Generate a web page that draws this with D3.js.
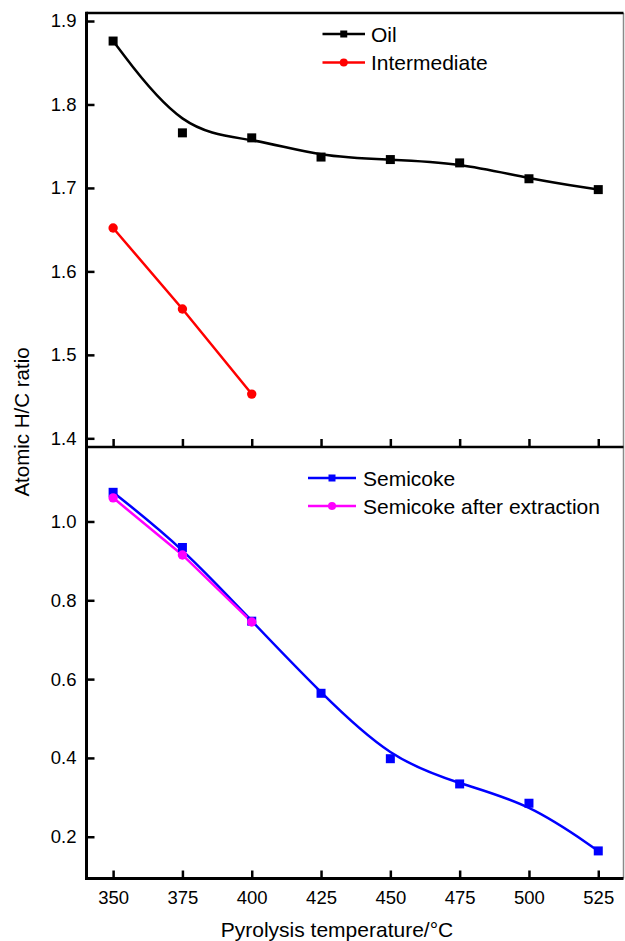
<!DOCTYPE html>
<html>
<head>
<meta charset="utf-8">
<script src="https://cdn.jsdelivr.net/npm/d3@7"></script>
<style>
  html, body { margin: 0; padding: 0; background: #fff; }
  svg { display: block; font-family: "Liberation Sans", Arial, Helvetica, sans-serif; }
</style>
</head>
<body>
<svg id="chart" width="625" height="941"></svg>
<script>
// ---------- data ----------
const temperatures = [350, 375, 400, 425, 450, 475, 500, 525];
const oilValues = [1.876, 1.766, 1.760, 1.737, 1.734, 1.730, 1.711, 1.698];
const intermediateTemps = [350, 375, 400];
const intermediateValues = [1.652, 1.555, 1.453];
const semicokeValues = [1.074, 0.934, 0.747, 0.564, 0.398, 0.334, 0.285, 0.164];
const extractionTemps = [350, 375, 400];
const extractionValues = [1.060, 0.915, 0.745];
const xTicks = [350, 375, 400, 425, 450, 475, 500, 525];
const yTopTicks = [1.4, 1.5, 1.6, 1.7, 1.8, 1.9];
const yBottomTicks = [0.2, 0.4, 0.6, 0.8, 1.0];
const topLegend = ["Oil", "Intermediate"];
const bottomLegend = ["Semicoke", "Semicoke after extraction"];

// ---------- layout ----------
const L = 86.5, R = 623.5, T = 13, MID = 447, B = 878.5;
const svg = d3.select("#chart");

const x = d3.scaleLinear().domain([340.4, 534.1]).range([L, R]);
const yTop = d3.scaleLinear().domain([1.3896, 1.9096]).range([MID, T]);
const yBot = d3.scaleLinear().domain([0.094, 1.189]).range([B, MID]);

const tickFont = "18.5px";

// Y axes
function styleAxis(g) {
  g.select(".domain").remove();
  g.selectAll(".tick line").attr("stroke", "#000").attr("stroke-width", 2.5);
  g.selectAll(".tick text").attr("fill", "#000").style("font-size", tickFont)
    .style("font-family", '"Liberation Sans", Arial, sans-serif');
}
svg.append("g").attr("transform", `translate(${L},0)`)
  .call(d3.axisLeft(yTop).tickValues(yTopTicks).tickSize(-8).tickPadding(10).tickFormat(d3.format(".1f")))
  .call(styleAxis);
svg.append("g").attr("transform", `translate(${L},0)`)
  .call(d3.axisLeft(yBot).tickValues(yBottomTicks).tickSize(-8).tickPadding(10).tickFormat(d3.format(".1f")))
  .call(styleAxis);

// X axes
svg.append("g").attr("transform", `translate(0,${B})`)
  .call(d3.axisBottom(x).tickValues(xTicks).tickSize(-8).tickPadding(12).tickFormat(d3.format("d")))
  .call(styleAxis);
svg.append("g").attr("transform", `translate(0,${MID})`)
  .call(d3.axisBottom(x).tickValues(xTicks).tickSize(-8).tickFormat(""))
  .call(styleAxis);

// frame
svg.append("line").attr("x1", R).attr("x2", R).attr("y1", T).attr("y2", B)
  .attr("stroke", "#8a8a8a").attr("stroke-width", 1.5);
svg.append("line").attr("x1", L).attr("x2", R).attr("y1", T).attr("y2", T)
  .attr("stroke", "#000").attr("stroke-width", 2.5);
svg.append("line").attr("x1", L).attr("x2", R).attr("y1", MID).attr("y2", MID)
  .attr("stroke", "#000").attr("stroke-width", 2.5);
svg.append("line").attr("x1", L).attr("x2", R).attr("y1", B).attr("y2", B)
  .attr("stroke", "#000").attr("stroke-width", 3);
svg.append("line").attr("x1", L).attr("x2", L).attr("y1", T - 1.25).attr("y2", B + 1.5)
  .attr("stroke", "#000").attr("stroke-width", 3);

// ---------- series ----------
function drawLine(xs, ys, yScale, color, curve) {
  const pts = xs.map((t, i) => [t, ys[i]]);
  svg.append("path").datum(pts)
    .attr("fill", "none").attr("stroke", color).attr("stroke-width", 2.5)
    .attr("d", d3.line().x(d => x(d[0])).y(d => yScale(d[1])).curve(curve));
}
function drawSquares(xs, ys, yScale, color, s) {
  svg.append("g").selectAll("rect").data(xs.map((t, i) => [t, ys[i]])).join("rect")
    .attr("x", d => x(d[0]) - s / 2).attr("y", d => yScale(d[1]) - s / 2)
    .attr("width", s).attr("height", s).attr("fill", color);
}
function drawCircles(xs, ys, yScale, color, r) {
  svg.append("g").selectAll("circle").data(xs.map((t, i) => [t, ys[i]])).join("circle")
    .attr("cx", d => x(d[0])).attr("cy", d => yScale(d[1])).attr("r", r).attr("fill", color);
}

drawLine(temperatures, oilValues, yTop, "#000", d3.curveBasis);
drawSquares(temperatures, oilValues, yTop, "#000", 9);
drawLine(intermediateTemps, intermediateValues, yTop, "#ff0000", d3.curveLinear);
drawCircles(intermediateTemps, intermediateValues, yTop, "#ff0000", 4.7);

drawLine(temperatures, semicokeValues, yBot, "#0000ff", d3.curveBasis);
drawLine(extractionTemps, extractionValues, yBot, "#ff00ff", d3.curveLinear);
drawSquares(temperatures, semicokeValues, yBot, "#0000ff", 9);
drawCircles(extractionTemps, extractionValues, yBot, "#ff00ff", 4.7);

// ---------- legends ----------
function legendRow(x1, x2, y, color, marker, label, tx) {
  svg.append("line").attr("x1", x1).attr("x2", x2).attr("y1", y).attr("y2", y)
    .attr("stroke", color).attr("stroke-width", 2.5);
  const cx = (x1 + x2) / 2;
  if (marker === "square") {
    svg.append("rect").attr("x", cx - 3.5).attr("y", y - 3.5).attr("width", 7).attr("height", 7).attr("fill", color);
  } else {
    svg.append("circle").attr("cx", cx).attr("cy", y).attr("r", 4).attr("fill", color);
  }
  svg.append("text").attr("x", tx).attr("y", y + 7.5).attr("fill", "#000")
    .style("font-size", "21px").text(label);
}
legendRow(322.5, 365, 34, "#000", "square", topLegend[0], 371);
legendRow(322.5, 365, 62.5, "#ff0000", "circle", topLegend[1], 371);
legendRow(308, 356, 478, "#0000ff", "square", bottomLegend[0], 363);
legendRow(308, 356, 506, "#ff00ff", "circle", bottomLegend[1], 363);

// ---------- titles ----------
svg.append("text").attr("x", 337).attr("y", 937).attr("text-anchor", "middle")
  .style("font-size", "21px").attr("fill", "#000").text("Pyrolysis temperature/°C");
svg.append("text").attr("transform", "translate(29,422) rotate(-90)").attr("text-anchor", "middle")
  .style("font-size", "20.5px").attr("fill", "#000").text("Atomic H/C ratio");
</script>
</body>
</html>
